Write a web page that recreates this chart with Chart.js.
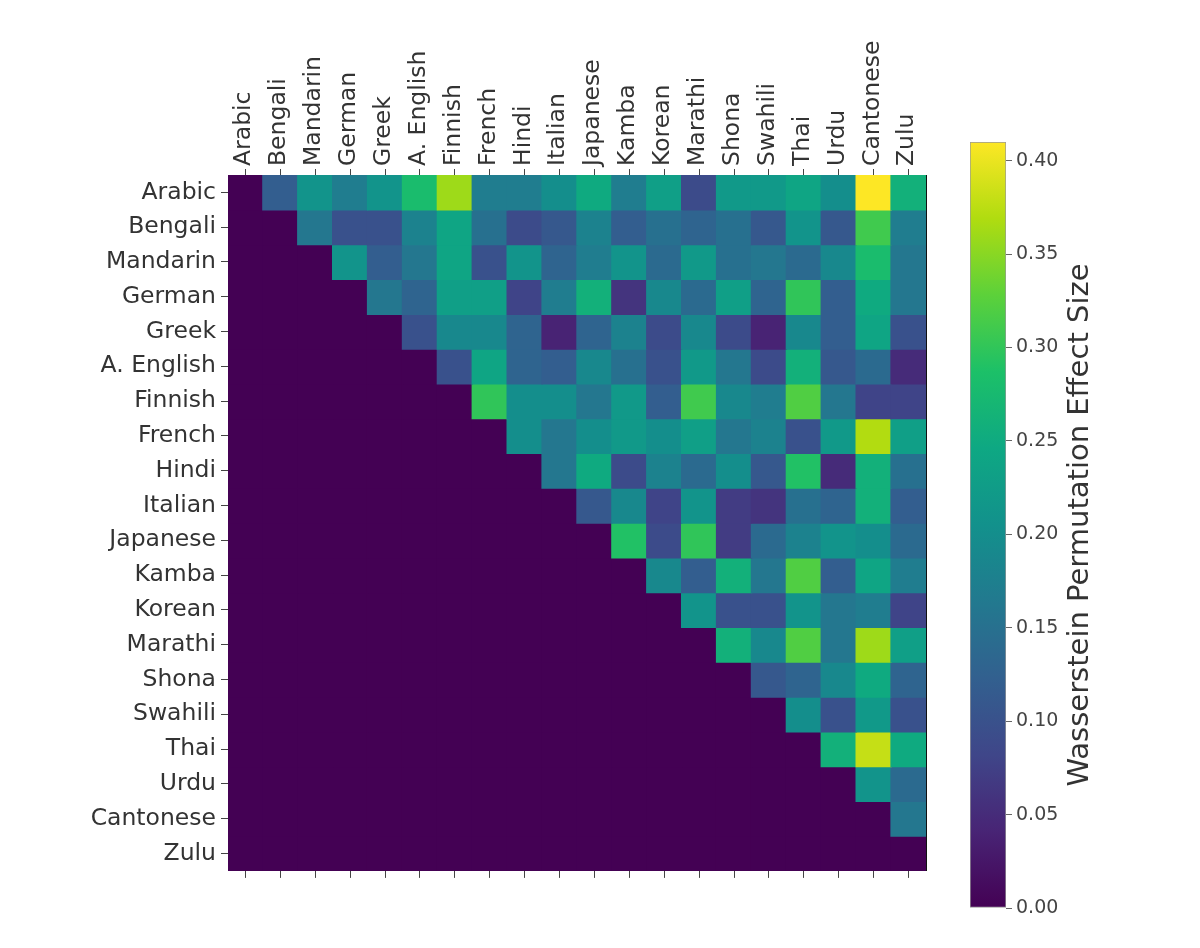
<!DOCTYPE html>
<html>
<head>
<meta charset="utf-8">
<script src="https://cdn.jsdelivr.net/npm/chart.js@4"></script>
<style>
  html, body { margin: 0; padding: 0; background: #fff; }
  #page { position: relative; width: 1200px; height: 948px; overflow: hidden; }
  #heatWrap { position: absolute; left: 0; top: 0; width: 940px; height: 890px; }
  #barWrap { position: absolute; left: 940px; top: 0; width: 260px; height: 948px; }
</style>
</head>
<body>
<div id="page">
  <div id="heatWrap"><canvas id="heatCanvas"></canvas></div>
  <div id="barWrap"><canvas id="barCanvas"></canvas></div>
</div>
<script>
const languages = ["Arabic", "Bengali", "Mandarin", "German", "Greek", "A. English", "Finnish", "French", "Hindi", "Italian",
                   "Japanese", "Kamba", "Korean", "Marathi", "Shona", "Swahili", "Thai", "Urdu", "Cantonese", "Zulu"];

// upper triangle, each row starts at the column right after the diagonal
const rowArabic    = [0.12, 0.21, 0.17, 0.21, 0.28, 0.36, 0.17, 0.17, 0.20, 0.25, 0.17, 0.23, 0.09, 0.22, 0.22, 0.24, 0.20, 0.41, 0.26];
const rowBengali   = [0.16, 0.10, 0.10, 0.18, 0.24, 0.15, 0.09, 0.11, 0.18, 0.12, 0.15, 0.13, 0.15, 0.11, 0.21, 0.11, 0.31, 0.17];
const rowMandarin  = [0.21, 0.12, 0.16, 0.24, 0.10, 0.21, 0.13, 0.17, 0.21, 0.14, 0.22, 0.15, 0.16, 0.14, 0.19, 0.28, 0.16];
const rowGerman    = [0.16, 0.13, 0.23, 0.23, 0.08, 0.17, 0.26, 0.06, 0.19, 0.14, 0.23, 0.13, 0.30, 0.12, 0.25, 0.16];
const rowGreek     = [0.10, 0.19, 0.19, 0.13, 0.04, 0.13, 0.18, 0.09, 0.19, 0.09, 0.04, 0.19, 0.12, 0.24, 0.10];
const rowEnglish   = [0.10, 0.24, 0.13, 0.12, 0.19, 0.15, 0.10, 0.22, 0.16, 0.09, 0.26, 0.11, 0.14, 0.05];
const rowFinnish   = [0.30, 0.20, 0.20, 0.16, 0.22, 0.12, 0.31, 0.19, 0.17, 0.32, 0.16, 0.08, 0.08];
const rowFrench    = [0.20, 0.16, 0.20, 0.22, 0.20, 0.23, 0.16, 0.18, 0.10, 0.22, 0.37, 0.23];
const rowHindi     = [0.16, 0.25, 0.09, 0.18, 0.14, 0.20, 0.11, 0.29, 0.05, 0.26, 0.15];
const rowItalian   = [0.11, 0.19, 0.08, 0.21, 0.07, 0.06, 0.15, 0.13, 0.26, 0.12];
const rowJapanese  = [0.29, 0.09, 0.30, 0.07, 0.14, 0.18, 0.21, 0.20, 0.14];
const rowKamba     = [0.19, 0.12, 0.26, 0.16, 0.32, 0.12, 0.24, 0.17];
const rowKorean    = [0.21, 0.10, 0.10, 0.21, 0.16, 0.17, 0.08];
const rowMarathi   = [0.26, 0.19, 0.32, 0.16, 0.36, 0.23];
const rowShona     = [0.11, 0.13, 0.19, 0.25, 0.13];
const rowSwahili   = [0.20, 0.10, 0.22, 0.10];
const rowThai      = [0.26, 0.38, 0.25];
const rowUrdu      = [0.21, 0.14];
const rowCantonese = [0.16];
const rowZulu      = [];

const effectRows = [rowArabic, rowBengali, rowMandarin, rowGerman, rowGreek, rowEnglish, rowFinnish, rowFrench, rowHindi, rowItalian,
                    rowJapanese, rowKamba, rowKorean, rowMarathi, rowShona, rowSwahili, rowThai, rowUrdu, rowCantonese, rowZulu];

const colorbarTicks = [0, 0.05, 0.10, 0.15, 0.20, 0.25, 0.30, 0.35, 0.40];
const vMin = 0, vMax = 0.41;

// viridis-ish stops
const viridis = ["#440154", "#482475", "#3f4689", "#32608f", "#22798f", "#12918c", "#0ea883", "#1cc068", "#5cd13a", "#b0dc10", "#fde725"];

const hexToRgb = (h) => [parseInt(h.slice(1, 3), 16), parseInt(h.slice(3, 5), 16), parseInt(h.slice(5, 7), 16)];

const colorFor = (v) => {
    let t = (v - vMin) / (vMax - vMin);
    t = Math.max(0, Math.min(1, t));
    let pos = t * (viridis.length - 1);
    let k = Math.min(Math.floor(pos), viridis.length - 2);
    let f = pos - k;
    let a = hexToRgb(viridis[k]);
    let b = hexToRgb(viridis[k + 1]);
    let c = a.map((x, n) => Math.round(x + (b[n] - x) * f));
    return `rgb(${c[0]}, ${c[1]}, ${c[2]})`;
};

const cellValue = (i, j) => (j > i ? effectRows[i][j - i - 1] : 0);

const labelFont = { family: "DejaVu Sans", size: 23.5 };
const labelColor = "#333";

let heatDatasets = languages.map((rowName, i) => ({
    label: rowName,
    data: languages.map(() => [i, i + 1]),
    backgroundColor: languages.map((_, j) => colorFor(cellValue(i, j))),
    borderWidth: 0,
    inflateAmount: 0.7,
    barPercentage: 1,
    categoryPercentage: 1,
    grouped: false
}));

let heatChart = new Chart(document.getElementById("heatCanvas"), {
    type: "bar",
    data: { labels: languages, datasets: heatDatasets },
    options: {
        responsive: true,
        maintainAspectRatio: false,
        animation: false,
        layout: { padding: { right: 14, left: 0, top: 0, bottom: 0 } },
        plugins: { legend: { display: false }, tooltip: { enabled: false } },
        scales: {
            x: {
                position: "top",
                offset: true,
                grid: { drawOnChartArea: false, drawTicks: true, tickLength: 6, color: "#444", offset: false },
                border: { display: true, color: "#111", width: 1 },
                ticks: { font: labelFont, color: labelColor, minRotation: 90, maxRotation: 90, autoSkip: false,
                         padding: 3, labelOffset: 27 },
                afterFit: (scale) => { scale.height = 175; }
            },
            xb: {
                type: "category",
                labels: languages,
                position: "bottom",
                offset: true,
                grid: { drawOnChartArea: false, drawTicks: true, tickLength: 7, color: "#444", offset: false },
                border: { display: true, color: "#111", width: 1 },
                ticks: { callback: () => "", autoSkip: false },
                afterFit: (scale) => { scale.height = 13; }
            },
            y: {
                type: "linear",
                min: 0,
                max: languages.length,
                reverse: true,
                grid: { drawOnChartArea: false, drawTicks: true, tickLength: 7, color: "#444" },
                border: { display: true, color: "#111", width: 1 },
                afterBuildTicks: (scale) => { scale.ticks = languages.map((_, i) => ({ value: i + 0.5 })); },
                ticks: { font: labelFont, color: labelColor, autoSkip: false, padding: 5,
                         callback: (value, index) => languages[index] },
                afterFit: (scale) => { scale.width = 228; }
            },
            yr: {
                type: "linear",
                position: "right",
                min: 0,
                max: languages.length,
                grid: { drawOnChartArea: false, drawTicks: false },
                border: { display: true, color: "#111", width: 1 },
                ticks: { display: false },
                afterFit: (scale) => { scale.width = 0; }
            }
        }
    }
});

// colour bar
const colorbarTitle = "Wasserstein Permutation Effect Size";

const titlePlugin = {
    id: "sideTitle",
    afterDraw: (chart) => {
        let ctx = chart.ctx;
        let area = chart.chartArea;
        ctx.save();
        ctx.translate(140, (area.top + area.bottom) / 2);
        ctx.rotate(-Math.PI / 2);
        ctx.font = "29px 'DejaVu Sans'";
        ctx.fillStyle = "#333";
        ctx.textAlign = "center";
        ctx.textBaseline = "middle";
        ctx.fillText(colorbarTitle, 0, 0);
        ctx.restore();
    }
};

let barChart = new Chart(document.getElementById("barCanvas"), {
    type: "bar",
    data: {
        labels: ["bar"],
        datasets: [{
            data: [[vMin, vMax]],
            backgroundColor: (context) => {
                let area = context.chart.chartArea;
                if (!area) return viridis[0];
                let g = context.chart.ctx.createLinearGradient(0, area.bottom, 0, area.top);
                viridis.forEach((c, k) => g.addColorStop(k / (viridis.length - 1), c));
                return g;
            },
            borderColor: "#999",
            borderWidth: 1,
            borderSkipped: false,
            barPercentage: 1,
            categoryPercentage: 1
        }]
    },
    options: {
        responsive: true,
        maintainAspectRatio: false,
        animation: false,
        layout: { padding: { left: 30, top: 142, bottom: 40, right: 0 } },
        plugins: { legend: { display: false }, tooltip: { enabled: false } },
        scales: {
            x: { display: false },
            y: {
                position: "right",
                min: vMin,
                max: vMax,
                grid: { drawOnChartArea: false, drawTicks: true, tickLength: 6, color: "#666" },
                border: { display: false },
                afterBuildTicks: (scale) => { scale.ticks = colorbarTicks.map((v) => ({ value: v })); },
                ticks: { font: { family: "DejaVu Sans", size: 19 }, color: "#444", padding: 4,
                         callback: (value) => value.toFixed(2) },
                afterFit: (scale) => { scale.width = 194; }
            }
        }
    },
    plugins: [titlePlugin]
});
</script>
</body>
</html>
